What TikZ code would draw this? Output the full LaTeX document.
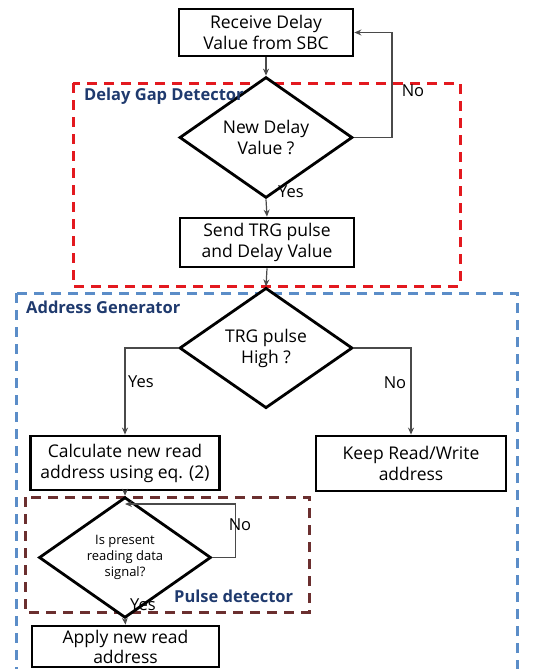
\documentclass[tikz,border=0pt]{standalone}
\usepackage{fontspec}
\setmainfont{Open Sans}
\usetikzlibrary{shapes.geometric,arrows.meta}
\definecolor{navy}{HTML}{1F3A6E}
\definecolor{redd}{HTML}{E3191F}
\definecolor{blued}{HTML}{5B8DC8}
\definecolor{brownd}{HTML}{6B2F2F}
\definecolor{conn}{HTML}{4A4A4A}
\tikzset{
  box/.style={draw=black,line width=2.8pt,rectangle,inner sep=0pt,align=center,font=\fontsize{17.5}{21}\selectfont},
  dia/.style={draw=black,line width=2.8pt,diamond,inner sep=0pt,align=center,font=\fontsize{17.5}{21}\selectfont},
  arr/.style={draw=conn,line width=1.2pt,-{Stealth[length=7pt,width=6pt]}},
  lbl/.style={font=\fontsize{16.5}{18}\selectfont,inner sep=0pt},
  grp/.style={font=\bfseries\fontsize{16.5}{18}\selectfont,text=navy,inner sep=0pt},
  frame/.style={line width=3pt,dash pattern=on 10pt off 7pt}
}
\begin{document}
\begin{tikzpicture}[x=1pt,y=-1pt]
\useasboundingbox (0,0) rectangle (542,669);
\clip (0,0) rectangle (542,669);
% group frames
\draw[frame,draw=redd] (73,83) rectangle (460,286);
\draw[frame,draw=blued] (16,293) rectangle (517,690);
\draw[frame,draw=brownd] (25,497) rectangle (309,612);
% nodes
\node[box,minimum width=174pt,minimum height=47pt] (b1) at (266,32.5) {Receive Delay\\Value from SBC};
\node[dia,minimum width=173pt,minimum height=81pt,fill=white] (d1) at (266,137.5) {New Delay\\Value ?};
\node[box,minimum width=174pt,minimum height=49pt,fill=white] (b2) at (267,242.5) {Send TRG pulse\\and Delay Value};
\node[dia,minimum width=173pt,minimum height=82pt,fill=white] (d2) at (266,348) {TRG pulse\\High ?};
\node[box,minimum width=189pt,minimum height=54pt] (b3) at (125,463) {Calculate new read\\address using eq. (2)};
\node[box,minimum width=190pt,minimum height=55pt] (b4) at (411,463.5) {Keep Read/Write\\address};
\node[dia,minimum width=172pt,minimum height=79pt,font=\fontsize{13}{16}\selectfont,fill=white] (d3) at (125,557.5) {Is present\\reading data\\signal?};
\node[box,minimum width=187pt,minimum height=41pt,font=\fontsize{17.5}{20}\selectfont,fill=white] (b5) at (125.5,646.5) {Apply new read\\address};
\coordinate (j) at (125,504);
% group labels
\node[grp,anchor=west] (g1) at (84,96) {Delay Gap Detector};
\node[grp,anchor=west] (g2) at (26,307) {Address Generator};
\node[grp,anchor=west] (g3) at (174,596) {Pulse detector};
% connectors
\draw[arr] (b1.south) -- (d1.north);
\draw[arr] (d1.east) -- ++(38,0) |- (b1.east);
\draw[arr] (d1.south) -- (b2.north);
\draw[arr] (b2.south) -- (d2.north);
\draw[arr] (d2.west) -| (b3.north);
\draw[arr] (d2.east) -| (b4.north);
\draw[arr] (b3.south) -- (d3.north);
\draw[arr] (d3.east) -- ++(23,0) |- (j);
\draw[arr] (d3.south) -- (b5.north);
% labels
\node[lbl] (n1) at (413,91) {No};
\node[lbl] (y1) at (291,192) {Yes};
\node[lbl] (y2) at (141,382) {Yes};
\node[lbl] (n2) at (395,383) {No};
\node[lbl] (n3) at (240,525) {No};
\node[lbl] (y3) at (143,605) {Yes};
\end{tikzpicture}
\end{document}
